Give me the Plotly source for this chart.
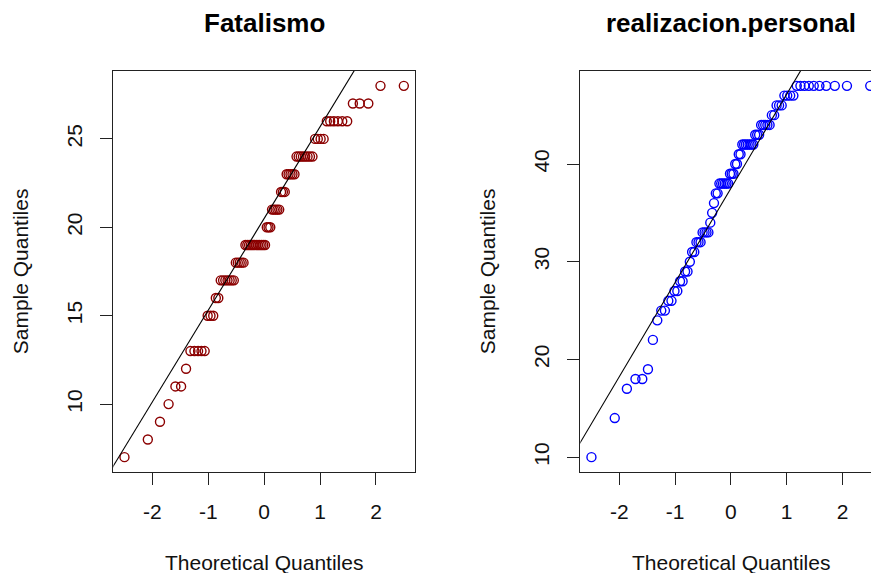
import numpy as np
import plotly.graph_objects as go
from statistics import NormalDist

# page window 879x573; the page body has an 8px margin, so the figure is offset
PAGE_W, PAGE_H = 879, 573
OFF = 8
W, H = PAGE_W - OFF, PAGE_H - OFF

# ---- data (sorted sample values as level/count pairs) ----
fat_levels = [7, 8, 9, 10, 11, 12, 13, 15, 16, 17, 18, 19, 20, 21, 22, 23, 24, 25, 26, 27, 28]
fat_counts = [1, 1, 1, 1, 2, 1, 5, 3, 2, 7, 5, 12, 3, 5, 3, 5, 8, 4, 6, 3, 2]

rp_levels = [10, 14, 17, 18, 19, 22, 24, 25, 26, 27, 28, 29, 30, 31, 32, 33, 34, 35, 36,
             37, 38, 39, 40, 41, 42, 43, 44, 45, 46, 47, 48]
rp_counts = [1, 1, 1, 2, 1, 1, 1, 2, 2, 2, 2, 2, 1, 2, 3, 4, 1, 1, 1,
             2, 6, 3, 2, 2, 7, 3, 5, 2, 3, 4, 10]

x_ticks = [-2, -1, 0, 1, 2]
fat_yticks = [10, 15, 20, 25]
rp_yticks = [10, 20, 30, 40]
titles = ["Fatalismo", "realizacion.personal"]
xlabel = "Theoretical Quantiles"
ylabel = "Sample Quantiles"
colors = ["#8B0000", "#0000FF"]

FONT = "Liberation Sans, Arial, Helvetica, sans-serif"


def px_x(px):
    return (px - OFF) / W


def px_y(py):
    return 1 - (py - OFF) / H


def qq(levels, counts):
    y = np.repeat(levels, counts).astype(float)
    n = len(y)
    a = 3 / 8 if n <= 10 else 0.5
    p = (np.arange(1, n + 1) - a) / (n + 1 - 2 * a)
    x = np.array([NormalDist().inv_cdf(v) for v in p])
    return x, y


def qqline(y):
    q1, q3 = np.percentile(y, [25, 75])
    t1, t3 = NormalDist().inv_cdf(0.25), NormalDist().inv_cdf(0.75)
    slope = (q3 - q1) / (t3 - t1)
    return slope, q1 - slope * t1


def rrange(v):
    lo, hi = float(np.min(v)), float(np.max(v))
    d = hi - lo
    return [lo - 0.04 * d, hi + 0.04 * d]


# panel boxes in page pixels (original figure was wider; right panel is cut at the edge)
box_left = [(113.3, 415.0), (580.3, 881.4)]
box_top, box_bot = 71.0, 472.0

fig = go.Figure()
panels = [(fat_levels, fat_counts, fat_yticks), (rp_levels, rp_counts, rp_yticks)]

for k, (lv, ct, yt) in enumerate(panels):
    x, y = qq(lv, ct)
    slope, inter = qqline(y)
    xr = rrange(x)
    yr = rrange(y)
    bx0, bx1 = box_left[k]
    d0 = px_x(bx0)
    if bx1 > PAGE_W:
        frac = (PAGE_W - bx0) / (bx1 - bx0)
        xr = [xr[0], xr[0] + (xr[1] - xr[0]) * frac]
        d1 = 1.0
    else:
        d1 = px_x(bx1)
    xa = "x" if k == 0 else "x2"
    ya = "y" if k == 0 else "y2"
    fig.add_trace(go.Scatter(
        x=x, y=y, mode="markers", xaxis=xa, yaxis=ya, showlegend=False,
        marker=dict(symbol="circle-open", size=9, color=colors[k],
                    line=dict(color=colors[k], width=1.4)),
        hoverinfo="x+y"))
    lx = np.array([xr[0] - 1, xr[1] + 1])
    fig.add_trace(go.Scatter(
        x=lx, y=inter + slope * lx, mode="lines", xaxis=xa, yaxis=ya,
        showlegend=False, line=dict(color="black", width=1.1), hoverinfo="skip"))

    common = dict(showgrid=False, zeroline=False, showline=True, linecolor="#222",
                  linewidth=1.2, ticks="outside", ticklen=12, tickwidth=1.1,
                  tickcolor="#222", tickfont=dict(family=FONT, size=21, color="#111"),
                  automargin=False)
    xkey = "xaxis" if k == 0 else "xaxis2"
    ykey = "yaxis" if k == 0 else "yaxis2"
    fig.update_layout(**{
        xkey: dict(common, domain=[d0, d1], range=xr, tickvals=x_ticks,
                   ticktext=[str(t) for t in x_ticks], mirror=True,
                   anchor=ya, ticklabelstandoff=9),
        ykey: dict(common, domain=[px_y(box_bot), px_y(box_top)], range=yr,
                   tickvals=yt, ticktext=[str(t) for t in yt],
                   mirror=(bx1 <= PAGE_W), anchor=xa, tickangle=-90,
                   ticklabelstandoff=10),
    })

    cx = (bx0 + bx1) / 2
    fig.add_annotation(text="<b>%s</b>" % titles[k], x=px_x(cx), y=px_y(23),
                       xref="paper", yref="paper", showarrow=False,
                       xanchor="center", yanchor="middle",
                       font=dict(family=FONT, size=26, color="#000"))
    fig.add_annotation(text=xlabel, x=px_x(cx), y=px_y(562),
                       xref="paper", yref="paper", showarrow=False,
                       xanchor="center", yanchor="middle",
                       font=dict(family=FONT, size=21, color="#111"))
    fig.add_annotation(text=ylabel, x=px_x(bx0 - 92.5),
                       y=px_y((box_top + box_bot) / 2),
                       xref="paper", yref="paper", showarrow=False, textangle=-90,
                       xanchor="center", yanchor="middle",
                       font=dict(family=FONT, size=21, color="#111"))

fig.update_layout(width=W, height=H, margin=dict(l=0, r=0, t=0, b=0),
                  paper_bgcolor="white", plot_bgcolor="white")

fig.write_html("out.html")
